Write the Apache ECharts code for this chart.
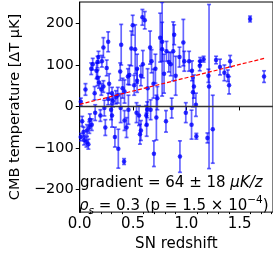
<!DOCTYPE html>
<html>
<head>
<meta charset="utf-8">
<script src="https://cdn.jsdelivr.net/npm/echarts@6/dist/echarts.min.js"></script>
<style>
html,body{margin:0;padding:0;background:#fff;}
#c{width:273px;height:257px;}
</style>
</head>
<body>
<div id="c"></div>
<script>
// ---- data ----
const xTicks = [0, 0.5, 1.0, 1.5];
const xMinorTicks = [0.1,0.2,0.3,0.4,0.6,0.7,0.8,0.9,1.1,1.2,1.3,1.4,1.6,1.7,1.8];
const yTicks = [-200, -100, 0, 100, 200];

const redshift = [
 0.01,0.108,0.122,0.158,0.167,0.167,0.181,0.176,0.208,0.222,
 0.267,0.253,0.203,0.222,0.140,0.054,0.276,0.267,0.303,0.312,
 0.339,0.380,0.389,0.484,0.497,0.452,0.466,0.520,0.538,0.511,
 0.538,0.574,0.588,0.610,0.592,0.660,0.637,0.692,0.728,0.755,
 0.773,0.773,0.814,0.836,0.854,0.877,0.886,0.900,0.936,0.972,
 0.981,1.026,1.053,1.062,1.071,1.090,1.130,1.162,1.126,1.207,
 1.213,1.279,1.316,1.357,1.389,1.401,1.411,1.598,1.729,0.674,
 0.710,0.791,0.357,0.402,0.420,
 0.023,0.036,0.009,0.041,0.063,0.081,0.068,0.090,0.113,0.095,
 0.145,0.240,0.294,0.303,0.330,0.362,0.416,0.420,0.439,0.533,
 0.556,0.565,0.633,0.624,0.628,0.696,0.719,0.809,0.940,0.995,
 1.049,1.094,1.198,1.248,0.574,0.231,0.384,0.457,0.665,0.863,
 0.194
];
const temperature = [
 11,91,102,86,107,69,58,119,109,142,
 156,93,41,48,32,41,55,18,32,13,
 22,84,149,140,196,72,76,138,91,51,
 62,74,215,208,102,142,44,55,20,166,
 156,138,133,107,102,133,173,74,119,154,
 109,109,86,34,48,4,109,114,98,74,
 48,112,95,81,74,51,109,211,72,109,
 91,79,27,44,36,
 -36,-62,-74,-81,-86,-91,-58,-51,-44,-32,
 -15,-51,-8,-22,-74,-102,-133,-34,-51,-15,
 -22,-67,-8,-22,-44,-114,-27,-36,-121,-15,
 -44,-72,-76,-55,-58,-4,-4,-8,-8,-4,
 -22
];
const tempError = [
 9,14,14,19,14,19,14,14,14,24,
 24,19,14,14,16,14,24,14,14,14,
 16,21,49,42,24,19,24,59,35,24,
 28,24,19,21,33,40,47,35,28,59,
 47,113,24,24,28,71,24,47,24,56,
 24,24,24,35,28,28,9,7,12,16,
 198,9,19,19,14,21,14,7,14,28,
 35,47,19,24,28,
 12,12,9,12,12,12,14,14,14,14,
 19,19,24,28,24,47,7,24,24,24,
 24,24,19,24,28,31,54,26,38,24,
 35,7,12,82,24,19,35,35,24,24,
 14
];
// linear fit (gradient 64 uK/z) end points
const fitX = [0, 1.73];
const fitY = [5, 116];

// ---- build ----
const pts = redshift.map((x, i) => [x, temperature[i], tempError[i]]);
const font = 'DejaVu Sans';

const chart = echarts.init(document.getElementById('c'), null, {renderer: 'canvas'});
chart.setOption({
  animation: false,
  grid: {left: 74.5, top: 2, width: 200.5, height: 215, show: true,
         borderColor: '#000', borderWidth: 1, backgroundColor: 'transparent'},
  xAxis: [{
    type: 'value', min: 0, max: 1.813,
    name: 'SN redshift', nameLocation: 'middle', nameGap: 20,
    nameTextStyle: {fontFamily: font, fontSize: 15, color: '#000'},
    axisLine: {show: true, lineStyle: {color: '#000', width: 1}},
    axisTick: {show: true, customValues: xTicks, length: 4, lineStyle: {color: '#000'}},
    axisLabel: {customValues: xTicks, formatter: v => v.toFixed(1), fontFamily: font,
                fontSize: 15, color: '#000', margin: 5},
    splitLine: {show: false}
  }, {
    type: 'value', min: 0, max: 1.813, position: 'bottom',
    axisLine: {show: false},
    axisTick: {show: true, customValues: xMinorTicks, length: 2, lineStyle: {color: '#000'}},
    axisLabel: {show: false},
    splitLine: {show: false}
  }],
  yAxis: {
    type: 'value', min: -255, max: 252,
    name: 'CMB temperature [ΔT μK]', nameLocation: 'middle', nameGap: 52,
    nameTextStyle: {fontFamily: font, fontSize: 14.5, color: '#000'},
    axisLine: {show: true, lineStyle: {color: '#000', width: 1}},
    axisTick: {show: true, customValues: yTicks, length: 4, lineStyle: {color: '#000'}},
    axisLabel: {customValues: yTicks, formatter: v => String(v).replace('-', '\u2212'),
                fontFamily: font, fontSize: 14.5, color: '#000', margin: 6},
    splitLine: {show: false}
  },
  series: [
    {
      type: 'custom', name: 'err', clip: true, z: 2,
      data: pts,
      renderItem: function (params, api) {
        const x = api.value(0), y = api.value(1), e = api.value(2);
        const lo = api.coord([x, y - e]);
        const hi = api.coord([x, y + e]);
        const cw = 2;
        const st = {stroke: 'rgba(0,0,255,0.6)', lineWidth: 1.7};
        return {type: 'group', children: [
          {type: 'line', shape: {x1: lo[0], y1: lo[1], x2: hi[0], y2: hi[1]}, style: st},
          {type: 'line', shape: {x1: lo[0]-cw, y1: lo[1], x2: lo[0]+cw, y2: lo[1]}, style: st},
          {type: 'line', shape: {x1: hi[0]-cw, y1: hi[1], x2: hi[0]+cw, y2: hi[1]}, style: st}
        ]};
      }
    },
    {
      type: 'scatter', z: 3, symbol: 'circle', symbolSize: 4.5,
      itemStyle: {color: '#0000ff'},
      data: pts.map(p => [p[0], p[1]])
    },
    {
      type: 'line', z: 5, symbol: 'none', silent: true,
      data: fitX.map((x, i) => [x, fitY[i]]),
      lineStyle: {color: '#ff0000', width: 1.2, type: [4, 2]},
      markLine: {
        silent: true, symbol: 'none', label: {show: false},
        lineStyle: {color: '#333', width: 1.3, type: 'solid'},
        data: [{yAxis: 0}]
      }
    }
  ],
  graphic: [
    {type: 'text', x: 80, y: 183, z: 10,
     style: {
       text: '{a|gradient = 64 ± 18 }{i|μK/z}',
       verticalAlign: 'middle',
       rich: {
         a: {fontFamily: font, fontSize: 15, fill: '#000'},
         i: {fontFamily: font, fontSize: 15, fontStyle: 'italic', fill: '#000'}
       }
     }},
    {type: 'text', x: 79, y: 206, z: 10,
     style: {
       text: '{i|ρ}{sub|s}{a| = 0.3 (p = 1.5 × 10}{sup|−4}{a|)}',
       verticalAlign: 'middle',
       rich: {
         a: {fontFamily: font, fontSize: 15, fill: '#000', lineHeight: 22, verticalAlign: 'middle'},
         i: {fontFamily: font, fontSize: 15, fontStyle: 'italic', fill: '#000', lineHeight: 22, verticalAlign: 'middle'},
         sub: {fontFamily: font, fontSize: 10.5, fontStyle: 'italic', fill: '#000', verticalAlign: 'bottom', lineHeight: 22},
         sup: {fontFamily: font, fontSize: 10.5, fill: '#000', verticalAlign: 'top', lineHeight: 22}
       }
     }}
  ]
});
</script>
</body>
</html>
